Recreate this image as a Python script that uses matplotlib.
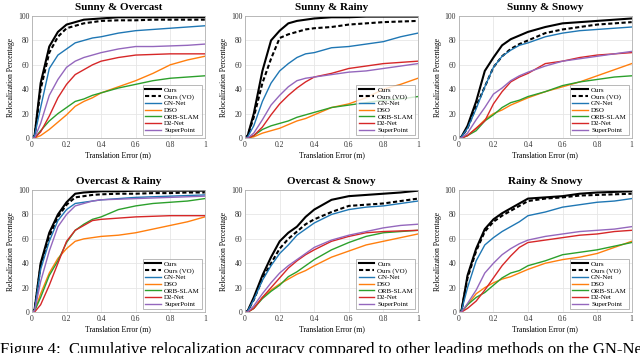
import matplotlib
matplotlib.use("Agg")
import matplotlib.pyplot as plt

plt.rcParams['font.family'] = ['Liberation Serif', 'DejaVu Serif']

# translation error sample points (m)
x = [0, 0.015, 0.05, 0.1, 0.15, 0.2, 0.25, 0.3, 0.35, 0.4, 0.5, 0.6, 0.7, 0.8, 0.9, 1.0]

titles = ["Sunny & Overcast", "Sunny & Rainy", "Sunny & Snowy",
          "Overcast & Rainy", "Overcast & Snowy", "Rainy & Snowy"]
methods = ["Ours", "Ours (VO)", "GN-Net", "DSO", "ORB-SLAM", "D2-Net", "SuperPoint"]

# relocalization percentage per panel, per method
ours = [
    [0, 2, 45, 75, 87, 93, 95, 97, 97.5, 98, 99, 99, 99, 99, 99, 99],
    [0, 2, 20, 55, 80, 88, 94, 96, 97, 98, 99, 99, 99.5, 99.5, 99.5, 99.5],
    [0, 1, 10, 30, 55, 66, 76, 81, 84, 87, 91, 94, 95, 96, 97, 98],
    [0, 2, 40, 65, 80, 90, 97, 98, 98.5, 99, 99, 99.5, 99.5, 99.5, 99.5, 99.5],
    [0, 1, 12, 30, 45, 58, 65, 70, 78, 84, 92, 95, 96, 97, 98, 99.5],
    [0, 1, 30, 52, 68, 76, 81, 85, 89, 93, 94, 95, 97, 98, 98.5, 99],
]
ours_vo = [
    [0, 2, 40, 70, 83, 90, 92, 94, 95, 96, 96.5, 96.5, 97, 97, 97, 97],
    [0, 2, 17, 45, 65, 82, 85, 87, 89, 90, 91, 93, 94, 95, 95.5, 96],
    [0, 1, 8, 26, 42, 58, 67, 73, 77, 80, 86, 89, 91, 93, 94, 95],
    [0, 2, 38, 62, 78, 88, 94, 95, 96, 96.5, 97, 97, 97.5, 97.5, 98, 98],
    [0, 1, 10, 27, 40, 52, 60, 66, 72, 76, 82, 87, 88, 89, 91, 93],
    [0, 1, 28, 50, 66, 74, 79, 83, 87, 91, 93, 94, 95.5, 96, 96.5, 97],
]
gn_net = [
    [0, 2, 25, 57, 68, 73, 78, 80, 82, 83, 86, 88, 89, 90, 91, 92],
    [0, 1, 10, 30, 45, 55, 61, 66, 69, 70, 74, 75, 77, 79, 83, 86],
    [0, 1, 8, 24, 42, 58, 67, 72, 76, 78, 83, 86, 88, 89, 90, 91],
    [0, 2, 35, 58, 75, 84, 89, 90, 91, 92, 93, 94, 94.5, 95, 95.5, 96],
    [0, 1, 10, 26, 38, 48, 55, 63, 68, 73, 80, 84, 86, 87, 89, 91],
    [0, 1, 20, 42, 55, 61, 66, 70, 74, 79, 82, 86, 88, 90, 91, 93],
]
dso = [
    [0, 0, 2, 7, 13, 19, 26, 30, 33, 37, 42, 47, 53, 60, 64, 67],
    [0, 0, 1, 4, 6, 8, 11, 14, 16, 19, 25, 28, 33, 40, 44, 49],
    [0, 0, 2, 8, 15, 20, 23, 27, 30, 33, 38, 42, 46, 51, 56, 61],
    [0, 1, 15, 32, 44, 52, 58, 60, 61, 62, 63, 65, 68, 71, 74, 78],
    [0, 0, 3, 12, 18, 23, 27, 31, 34, 38, 45, 50, 55, 58, 61, 64],
    [0, 0, 6, 15, 20, 24, 27, 29, 32, 35, 40, 43, 45, 48, 53, 58],
]
orb_slam = [
    [0, 0, 6, 14, 20, 25, 30, 32, 35, 37, 41, 44, 47, 49, 50, 51],
    [0, 0, 2, 7, 10, 12, 14, 17, 19, 21, 25, 27, 29, 31, 32, 34],
    [0, 0, 2, 6, 14, 19, 25, 29, 31, 34, 38, 43, 46, 48, 50, 51],
    [0, 1, 12, 30, 42, 57, 67, 72, 76, 78, 84, 87, 89, 90, 91, 93],
    [0, 0, 3, 11, 17, 22, 29, 33, 38, 43, 51, 57, 62, 65, 66, 67],
    [0, 0, 6, 12, 16, 22, 28, 32, 34, 38, 42, 47, 49, 51, 54, 57],
]
d2_net = [
    [0, 0, 5, 18, 33, 44, 52, 56, 60, 63, 66, 68, 68.5, 69, 69, 69],
    [0, 0, 2, 9, 19, 28, 35, 41, 46, 50, 53, 57, 59, 61, 62, 63],
    [0, 0, 2, 8, 14, 28, 38, 46, 50, 53, 61, 63, 66, 68, 69, 70],
    [0, 0, 6, 22, 40, 58, 67, 71, 75, 76, 77, 78, 78.5, 79, 79, 79],
    [0, 0, 3, 12, 20, 28, 36, 42, 47, 51, 58, 62, 65, 66, 66.5, 67],
    [0, 0, 3, 9, 18, 28, 38, 46, 53, 57, 59, 61, 63, 64, 66, 67],
]
superpoint = [
    [0, 0, 12, 35, 48, 58, 63, 66, 68, 70, 73, 75, 75, 75.5, 76, 77],
    [0, 0, 4, 15, 27, 35, 42, 47, 49, 50, 52, 54, 55, 57, 59, 61],
    [0, 0, 4, 15, 25, 36, 41, 47, 51, 54, 59, 63, 65, 67, 69, 71],
    [0, 1, 25, 50, 70, 80, 87, 89, 91, 92, 92.5, 93, 93.5, 94, 94.5, 95],
    [0, 0, 5, 15, 24, 32, 38, 43, 48, 53, 59, 63, 66, 69, 71, 72],
    [0, 0, 7, 18, 32, 40, 47, 52, 56, 59, 62, 64, 66, 67, 68, 70],
]

series = [ours, ours_vo, gn_net, dso, orb_slam, d2_net, superpoint]
colors = ["black", "black", "#1f77b4", "#ff7f0e", "#2ca02c", "#d62728", "#9467bd"]
styles = ["-", (0, (2, 1.2)), "-", "-", "-", "-", "-"]
widths = [1.5, 1.5, 1.0, 1.0, 1.0, 1.0, 1.0]

fig = plt.figure(figsize=(6.4, 3.53), dpi=100)
lefts = [0.05, 0.383, 0.717]
bottoms = [0.609, 0.116]

for i, title in enumerate(titles):
    ax = fig.add_axes([lefts[i % 3], bottoms[i // 3], 0.27, 0.3456])
    for s, name, c, ls, lw in zip(series, methods, colors, styles, widths):
        ax.plot(x, s[i], color=c, linestyle=ls, linewidth=lw, label=name)
    ax.set_xlim(0, 1)
    ax.set_ylim(0, 100)
    ax.set_xticks([0, 0.2, 0.4, 0.6, 0.8, 1])
    ax.set_xticklabels(["0", "0.2", "0.4", "0.6", "0.8", "1"])
    ax.set_yticks([0, 20, 40, 60, 80, 100])
    ax.grid(True, color="#e6e6e6", linewidth=0.6)
    ax.set_axisbelow(True)
    for sp in ax.spines.values():
        sp.set_color("#b0b0b0")
        sp.set_linewidth(0.6)
    ax.tick_params(labelsize=5.5, length=0, pad=2, colors="#333333")
    ax.set_title(title, fontsize=8, fontweight="bold", pad=4)
    ax.set_xlabel("Translation Error (m)", fontsize=5.5, labelpad=2)
    ax.set_ylabel("Relocalization Percentage", fontsize=5.5, labelpad=2)
    leg = ax.legend(loc="lower right", fontsize=5, frameon=True, fancybox=False,
                    handlelength=2.2, labelspacing=0.12, borderpad=0.3,
                    handletextpad=0.5, borderaxespad=0.4)
    leg.get_frame().set_edgecolor("#999999")
    leg.get_frame().set_linewidth(0.6)

fig.text(0.0, 0.03, "Figure 4:  Cumulative relocalization accuracy compared to other leading methods on the GN-Net",
         fontsize=12, va="top", ha="left")

plt.savefig("out.png", dpi=100)
